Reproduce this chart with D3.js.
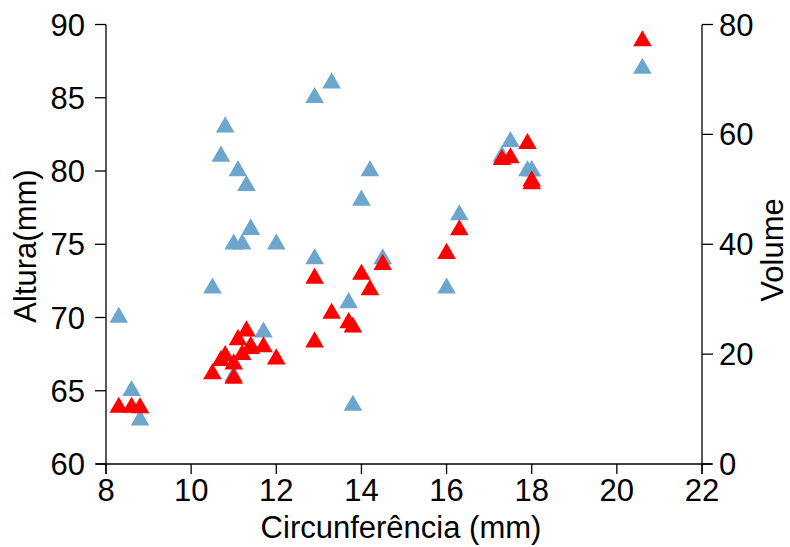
<!DOCTYPE html>
<html>
<head>
<meta charset="utf-8">
<script src="https://cdn.jsdelivr.net/npm/d3@7"></script>
<style>
  body { margin: 0; background: #fff; }
  text { font-family: Arial, "Liberation Sans", sans-serif; fill: #000; }
</style>
</head>
<body>
<svg width="790" height="547"></svg>
<script>
// trees data: girth, height, volume
const girth = [8.3, 8.6, 8.8, 10.5, 10.7, 10.8, 11.0, 11.0, 11.1, 11.2, 11.3, 11.4, 11.4, 11.7, 12.0, 12.9,
  12.9, 13.3, 13.7, 13.8, 14.0, 14.2, 14.5, 16.0, 16.3, 17.3, 17.5, 17.9, 18.0, 18.0, 20.6];
const height = [70, 65, 63, 72, 81, 83, 66, 75, 80, 75, 79, 76, 76, 69, 75, 74,
  85, 86, 71, 64, 78, 80, 74, 72, 77, 81, 82, 80, 80, 80, 87];
const volume = [10.3, 10.3, 10.2, 16.4, 18.8, 19.7, 15.6, 18.2, 22.6, 19.9, 24.2, 21.0, 21.4, 21.3, 19.1, 22.2,
  33.8, 27.4, 25.7, 24.9, 34.5, 31.7, 36.3, 38.3, 42.6, 55.4, 55.7, 58.3, 51.5, 51.0, 77.0];

const xTicks = [8, 10, 12, 14, 16, 18, 20, 22];
const leftTicks = [60, 65, 70, 75, 80, 85, 90];
const rightTicks = [0, 20, 40, 60, 80];

const svg = d3.select("svg");

const x = d3.scaleLinear().domain([8, 22]).range([106, 702]);
const yL = d3.scaleLinear().domain([60, 90]).range([464, 24.5]);
const yR = d3.scaleLinear().domain([0, 80]).range([464, 24.5]);

const fs = 31;

// x axis (line slightly overshoots like base R)
const gx = svg.append("g").attr("transform", "translate(0,464)");
gx.append("line").attr("x1", 96).attr("x2", 712).attr("stroke", "#000").attr("stroke-width", 1.3);
xTicks.forEach(t => {
  gx.append("line").attr("x1", x(t)).attr("x2", x(t)).attr("y1", 0).attr("y2", 10)
    .attr("stroke", "#000").attr("stroke-width", 1.3);
  gx.append("text").attr("x", x(t)).attr("y", 37).attr("text-anchor", "middle")
    .style("font-size", fs + "px").text(t);
});

// left axis
const gl = svg.append("g");
gl.append("line").attr("x1", 106).attr("x2", 106).attr("y1", yL(90)).attr("y2", 474)
  .attr("stroke", "#000").attr("stroke-width", 1.3);
leftTicks.forEach(t => {
  gl.append("line").attr("x1", 95).attr("x2", 106).attr("y1", yL(t)).attr("y2", yL(t))
    .attr("stroke", "#000").attr("stroke-width", 1.3);
  gl.append("text").attr("x", 85).attr("y", yL(t) + 11).attr("text-anchor", "end")
    .style("font-size", fs + "px").text(t);
});

// right axis
const gr = svg.append("g");
gr.append("line").attr("x1", 702).attr("x2", 702).attr("y1", yR(80)).attr("y2", 474)
  .attr("stroke", "#000").attr("stroke-width", 1.3);
rightTicks.forEach(t => {
  gr.append("line").attr("x1", 702).attr("x2", 713).attr("y1", yR(t)).attr("y2", yR(t))
    .attr("stroke", "#000").attr("stroke-width", 1.3);
  gr.append("text").attr("x", 719).attr("y", yR(t) + 11).attr("text-anchor", "start")
    .style("font-size", fs + "px").text(t);
});

// axis titles
svg.append("text").attr("x", 401).attr("y", 538).attr("text-anchor", "middle")
  .style("font-size", fs + "px").text("Circunferência (mm)");
svg.append("text").attr("transform", "translate(36,246) rotate(-90)").attr("text-anchor", "middle")
  .style("font-size", fs + "px").text("Altura(mm)");
svg.append("text").attr("transform", "translate(783,250) rotate(-90)").attr("text-anchor", "middle")
  .style("font-size", fs + "px").text("Volume");

// points
const tri = d3.symbol().type(d3.symbolTriangle).size(150);
const idx = d3.range(girth.length);

svg.append("g").selectAll("path.h").data(idx).join("path")
  .attr("d", tri)
  .attr("transform", i => `translate(${x(girth[i])},${yL(height[i])})`)
  .attr("fill", "#6CA6CD");

svg.append("g").selectAll("path.v").data(idx).join("path")
  .attr("d", tri)
  .attr("transform", i => `translate(${x(girth[i])},${yR(volume[i])})`)
  .attr("fill", "#ff0000");
</script>
</body>
</html>
